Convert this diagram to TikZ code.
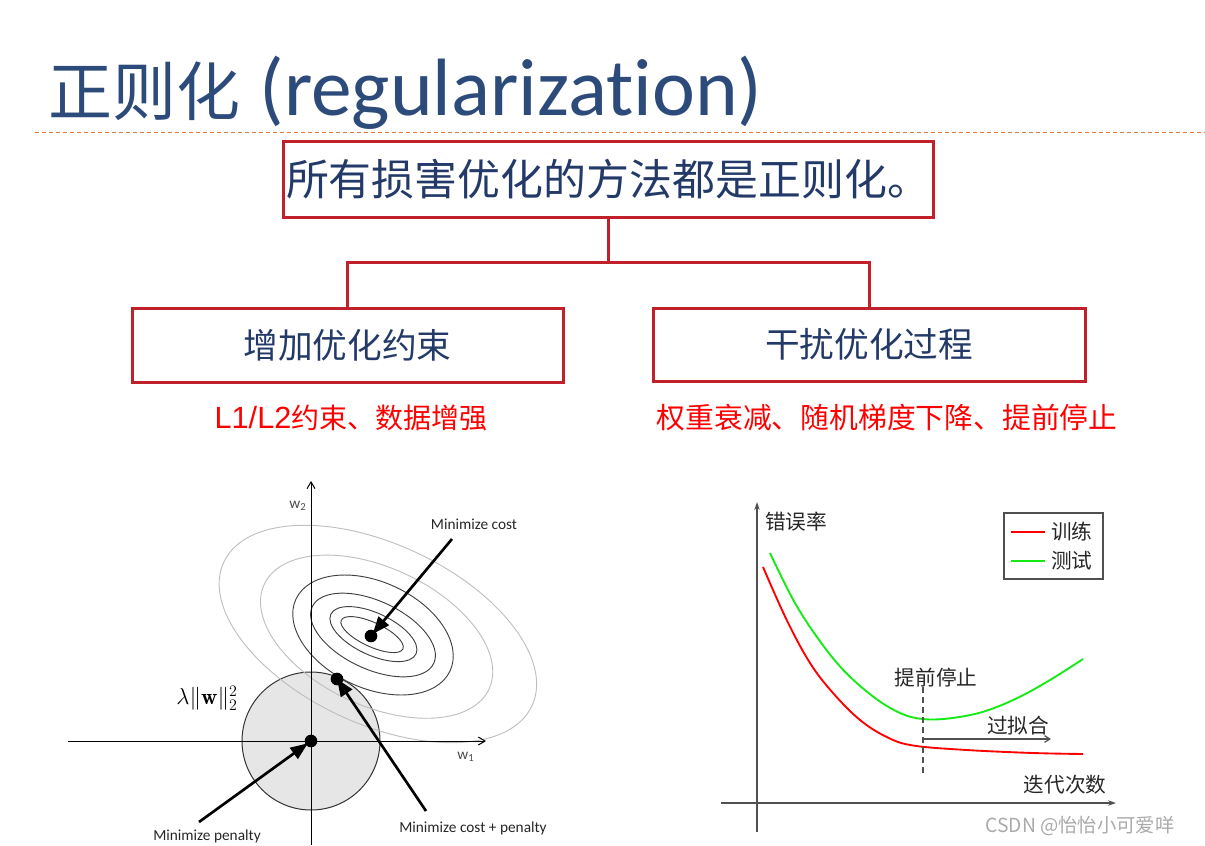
\documentclass[tikz,border=0pt]{standalone}
\usepackage{fontspec}
\newfontfamily\cjk{Noto Sans CJK SC}
\newfontfamily\carl[Ligatures={NoCommon}]{Carlito}
\newfontfamily\arialf{Liberation Sans}
\usetikzlibrary{arrows.meta}
\definecolor{titleblue}{RGB}{45,75,122}
\definecolor{boxred}{RGB}{192,32,42}
\definecolor{navy}{RGB}{35,58,105}
\definecolor{dashorange}{RGB}{228,120,60}
\definecolor{plotgray}{RGB}{80,80,80}
\definecolor{testgreen}{RGB}{20,235,20}
\definecolor{wmgray}{RGB}{170,170,170}
\begin{document}
\begin{tikzpicture}[x=0.75pt,y=-0.75pt,
  redbox/.style={draw=boxred, line width=2.25pt, inner sep=0pt, text=navy},
  conn/.style={draw=boxred, line width=2.25pt},
  dot/.style={circle, fill=black, inner sep=0pt, minimum size=9.5pt},
  bigarrow/.style={line width=2pt, -{Triangle[length=13pt,width=10pt]}},
  axisl/.style={line width=0.75pt, -{Straight Barb[length=5pt,width=6pt]}},
  darkell/.style={draw=black!75, line width=0.7pt},
  lightell/.style={draw=black!25, line width=0.7pt},
  lbl/.style={font=\carl\fontsize{11.5}{13}\selectfont, text=black!85, inner sep=0pt},
  cnl/.style={font=\cjk\fontsize{15.5}{18}\selectfont, text=black!85, inner sep=0pt},
  raxis/.style={draw=plotgray, line width=1pt, -{Stealth[length=6pt,width=4pt]}}
]
\useasboundingbox (0,0) rectangle (1205,845);

% ---- title ----
\node[text=titleblue, font=\cjk\fontsize{48}{56}\selectfont, inner sep=0pt] (t1) at (144,91) {正则化};
\node[text=titleblue, font=\carl\fontsize{61}{70}\selectfont, inner sep=0pt] (t2) at (511,93) {(regularization)};
\draw[dashorange, line width=0.75pt, dash pattern=on 3pt off 2.25pt] (35,133) -- (1205,133);

% ---- boxes ----
\node[redbox, minimum width=487.5pt, minimum height=56.25pt,
      font=\cjk\fontsize{32.2}{36}\selectfont] (top) at (608,179.5) {所有损害优化的方法都是正则化。};
\coordinate (j) at (608,262);
\node[redbox, minimum width=323.25pt, minimum height=55.5pt,
      font=\cjk\fontsize{26}{30}\selectfont] (lb) at (347.5,345) {增加优化约束};
\node[redbox, minimum width=324pt, minimum height=54.75pt,
      font=\cjk\fontsize{26}{30}\selectfont] (rb) at (869,344.5) {干扰优化过程};
\draw[conn] (top.south) -- (j);
\draw[conn] (lb.north) |- (j) -| (rb.north);

\node[text=red, font=\cjk\fontsize{21}{25}\selectfont, inner sep=0pt] (c1) at (351,418) {{\arialf\fontsize{23}{25}\selectfont L1/L2}约束、数据增强};
\node[text=red, font=\cjk\fontsize{21.6}{25}\selectfont, inner sep=0pt] (c2) at (887,418) {权重衰减、随机梯度下降、提前停止};

% ---- left plot ----
\fill[fill={rgb,255:red,230;green,230;blue,230}] (311,741) circle [radius=69];
\draw[black!80, line width=0.75pt] (311,741) circle [radius=69];
\begin{scope}[rotate around={-25:(373,635)}]
  \draw[darkell] (372,635) ellipse [x radius=34, y radius=12];
  \draw[darkell] (373,634) ellipse [x radius=47, y radius=21];
  \draw[darkell] (373,635) ellipse [x radius=67, y radius=34];
  \draw[darkell] (373,635) ellipse [x radius=85, y radius=53];
  \draw[lightell] (377,635) ellipse [x radius=124, y radius=69];
  \draw[lightell] (377,632) ellipse [x radius=170, y radius=90];
\end{scope}
\coordinate (xl) at (68,741);
\coordinate (xr) at (486,741);
\coordinate (yb) at (311,845);
\coordinate (yt) at (311,481);
\draw[axisl] (xl) -- (xr);
\draw[axisl] (yb) -- (yt);
\node[lbl, text=black!70] (w2) at (298,506) {w\textsubscript{2}};
\node[lbl, text=black!70] (w1) at (466,757) {w\textsubscript{1}};
\node[inner sep=0pt, font=\fontsize{17}{19}\selectfont] (lam) at (207,698) {$\lambda\|\mathbf{w}\|_2^2$};

\node[dot] (d0) at (311,741) {};
\node[dot] (d1) at (337,679) {};
\node[dot] (d2) at (371,636) {};

\node[lbl] (mc) at (474,524) {Minimize cost};
\node[lbl] (mcp) at (473,828) {Minimize cost + penalty};
\node[lbl] (mp) at (207,836) {Minimize penalty};
\coordinate (mcs) at (452,539);
\coordinate (mcps) at (426,811);
\coordinate (mps) at (199,822);
\draw[bigarrow, shorten >=-3pt] (mcs) -- (d2);
\draw[bigarrow, shorten >=-5pt] (mcps) -- (d1);
\draw[bigarrow, shorten >=-2pt] (mps) -- (d0);

% ---- right plot ----
\coordinate (ryb) at (757,832);
\coordinate (ryt) at (757,502);
\coordinate (rxl) at (721,803);
\coordinate (rxr) at (1116,803);
\draw[raxis] (ryb) -- (ryt);
\draw[raxis] (rxl) -- (rxr);
\node[cnl, anchor=west] (err) at (765,522) {错误率};
\node[cnl] (iter) at (1065,785) {迭代次数};

\node[draw=plotgray, line width=1.1pt, minimum width=74.25pt, minimum height=49.5pt, inner sep=0pt] (leg) at (1053.5,546) {};
\coordinate (lr1) at (1011,532);
\coordinate (lr2) at (1045,532);
\coordinate (lg1) at (1011,561);
\coordinate (lg2) at (1045,561);
\draw[red, line width=1.3pt] (lr1) -- (lr2);
\draw[testgreen, line width=1.3pt] (lg1) -- (lg2);
\node[cnl, anchor=west] (ltr) at (1051,532) {训练};
\node[cnl, anchor=west] (lte) at (1051,561) {测试};

\draw[red, line width=1.4pt] plot[smooth, tension=0.6] coordinates {
  (763,567) (786.7,620) (810,663) (833,693) (860,720) (886.7,737) (913,745.5) (966.7,750) (1033,753) (1083,754)};
\draw[testgreen, line width=1.4pt] plot[smooth, tension=0.6] coordinates {
  (770,553) (793.3,600) (816.7,636.7) (843.3,670) (873.3,696.7) (900,713) (922.7,719) (950,718.3) (983.3,711.7) (1016.7,698.3) (1050,680) (1083,659)};

\coordinate (es1) at (923,687);
\coordinate (es2) at (923,776);
\draw[plotgray, line width=1pt, dash pattern=on 4.5pt off 3pt] (es1) -- (es2);
\node[cnl] (stop) at (936,678) {提前停止};
\coordinate (of1) at (923,739);
\coordinate (of2) at (1051,739);
\draw[plotgray, line width=0.9pt, -{Straight Barb[length=4pt,width=5pt]}] (of1) -- (of2);
\node[cnl] (over) at (1018,726) {过拟合};

\node[font=\cjk\fontsize{14.5}{17}\selectfont, text=wmgray, inner sep=0pt] (wm) at (1080,826) {CSDN @怡怡小可爱咩};
\end{tikzpicture}
\end{document}
